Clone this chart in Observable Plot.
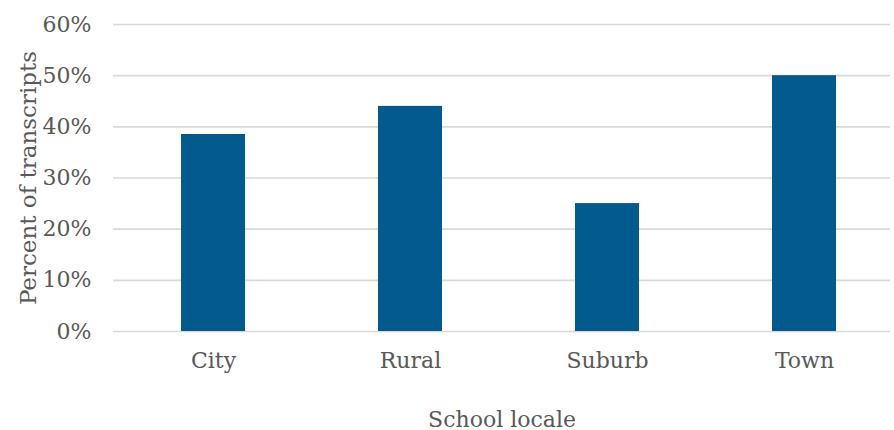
<!DOCTYPE html>
<html>
<head>
<meta charset="utf-8">
<script src="https://cdn.jsdelivr.net/npm/d3@7"></script>
<script src="https://cdn.jsdelivr.net/npm/@observablehq/plot@0.6"></script>
<style>
  html, body { margin: 0; padding: 0; background: #fff; }
  #chart svg { display: block; }
</style>
</head>
<body>
<div id="chart"></div>
<script>
// Share of transcripts by school locale
const locales = ["City", "Rural", "Suburb", "Town"];
const shares = [0.385, 0.44, 0.25, 0.50];
const yTicks = [0, 0.1, 0.2, 0.3, 0.4, 0.5, 0.6];

const rows = locales.map((locale, i) => ({locale, share: shares[i]}));

const font = "'DejaVu Serif', serif";
const ink = "#595959";

const chart = Plot.plot({
  width: 894,
  height: 430,
  marginLeft: 113,
  marginRight: 4,
  marginTop: 24,
  marginBottom: 99,
  style: {fontFamily: font, color: ink, background: "#fff"},
  x: {domain: locales, range: [113, 904], paddingInner: 0.676, paddingOuter: 0.339},
  y: {domain: [0, 0.6]},
  marks: [
    Plot.ruleY(yTicks, {stroke: "#d9d9d9", strokeWidth: 1.6}),
    Plot.barY(rows, {x: "locale", y: "share", fill: "#035A8C"}),
    Plot.axisY(yTicks, {
      tickFormat: d3.format(".0%"), tickSize: 0, tickPadding: 22,
      fontSize: 22, fill: ink, label: null
    }),
    Plot.axisX({tickSize: 0, tickPadding: 21, fontSize: 22, fill: ink, label: null}),
    Plot.text(["Percent of transcripts"], {
      frameAnchor: "left", dx: -85, rotate: -90,
      fontSize: 23, fill: ink, textAnchor: "middle", lineAnchor: "middle"
    }),
    Plot.text(["School locale"], {
      frameAnchor: "bottom", dy: 88,
      fontSize: 22, fill: ink, textAnchor: "middle", lineAnchor: "middle"
    })
  ]
});

document.getElementById("chart").appendChild(chart);
</script>
</body>
</html>
